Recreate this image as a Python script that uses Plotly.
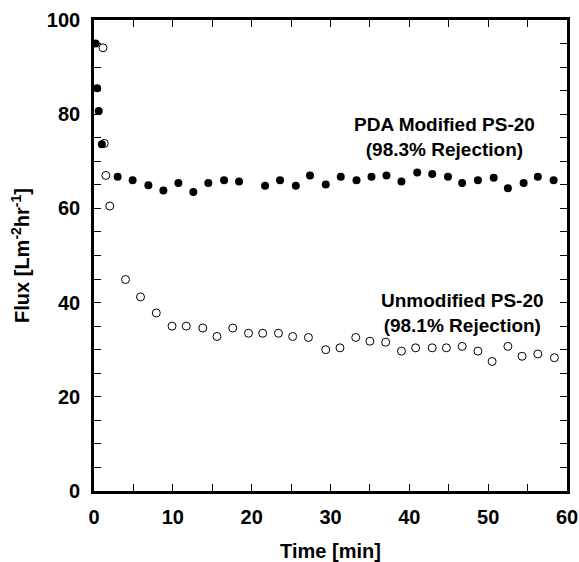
import plotly.graph_objects as go

# PDA Modified PS-20 (filled)
pda_time = [0.2, 0.4, 0.6, 1.0, 3.0, 4.9, 6.9, 8.8, 10.7, 12.6, 14.5, 16.5, 18.4,
            21.7, 23.6, 25.6, 27.4, 29.4, 31.3, 33.3, 35.2, 37.1, 39.0, 41.0, 42.9,
            44.9, 46.7, 48.7, 50.7, 52.5, 54.5, 56.3, 58.3]
pda_flux = [95.0, 85.5, 80.7, 73.6, 66.7, 66.0, 64.9, 63.8, 65.4, 63.5, 65.4, 66.0, 65.7,
            64.8, 66.0, 64.8, 67.0, 65.1, 66.7, 66.0, 66.7, 67.0, 65.7, 67.6, 67.3,
            66.7, 65.4, 66.0, 66.5, 64.3, 65.4, 66.7, 66.0]

# Unmodified PS-20 (open)
unmod_time = [1.14, 1.3, 1.5, 2.0, 4.0, 5.9, 7.9, 9.9, 11.7, 13.8, 15.6, 17.6, 19.6,
              21.4, 23.4, 25.2, 27.2, 29.4, 31.2, 33.2, 35.0, 37.0, 39.0, 40.8, 42.9,
              44.7, 46.7, 48.7, 50.5, 52.5, 54.3, 56.3, 58.4]
unmod_flux = [94.1, 73.8, 67.0, 60.5, 44.9, 41.2, 37.8, 35.0, 35.0, 34.6, 32.8, 34.6, 33.5,
              33.5, 33.5, 32.8, 32.6, 30.0, 30.4, 32.6, 31.8, 31.6, 29.7, 30.4, 30.4,
              30.4, 30.7, 29.7, 27.5, 30.7, 28.6, 29.1, 28.3]

x_ticks = [0, 10, 20, 30, 40, 50, 60]
y_ticks = [0, 20, 40, 60, 80, 100]

FONT = "Arial, Liberation Sans, sans-serif"

fig = go.Figure()
fig.add_trace(go.Scatter(x=pda_time, y=pda_flux, mode="markers",
                         marker=dict(symbol="circle", size=8, color="black"),
                         showlegend=False, cliponaxis=False))
fig.add_trace(go.Scatter(x=unmod_time, y=unmod_flux, mode="markers",
                         marker=dict(symbol="circle-open", size=8, color="black",
                                     line=dict(width=1, color="black")),
                         showlegend=False, cliponaxis=False))

fig.add_annotation(x=44.4, y=75.2, xref="x", yref="y", showarrow=False,
                   text="<b>PDA Modified PS-20<br>(98.3% Rejection)</b>",
                   font=dict(family=FONT, size=19, color="black"), align="center")
fig.add_annotation(x=46.7, y=37.8, xref="x", yref="y", showarrow=False,
                   text="<b>Unmodified PS-20<br>(98.1% Rejection)</b>",
                   font=dict(family=FONT, size=19, color="black"), align="center")

axis_common = dict(showgrid=False, zeroline=False, showline=True, linecolor="black",
                   linewidth=2.7, mirror="ticks", ticks="inside", ticklen=7,
                   tickwidth=1, tickcolor="black", automargin=False,
                   tickfont=dict(family=FONT, size=20, color="black"))

fig.update_xaxes(range=[0, 60], tickvals=x_ticks, ticktext=[f"<b>{v}</b>" for v in x_ticks],
                 minor=dict(dtick=5, ticks="inside", ticklen=7, tickwidth=1, tickcolor="black"),
                 ticklabelstandoff=6,
                 title=dict(text="<b>Time [min]</b>", font=dict(family=FONT, size=20, color="black"),
                            standoff=19),
                 **axis_common)
fig.update_yaxes(range=[0, 100], tickvals=y_ticks, ticktext=[f"<b>{v}</b>" for v in y_ticks],
                 minor=dict(dtick=5, ticks="inside", ticklen=7, tickwidth=1, tickcolor="black"),
                 ticklabelstandoff=7,
                 title=dict(text="<b>Flux [Lm<sup>-2</sup>hr<sup>-1</sup>]</b>",
                            font=dict(family=FONT, size=20, color="black"), standoff=12),
                 **axis_common)

fig.update_layout(width=579, height=562, margin=dict(l=94, r=12, t=20, b=71),
                  plot_bgcolor="white", paper_bgcolor="white")

fig.write_html("out.html", config={"displayModeBar": False},
               post_script="document.body.style.margin='0';document.body.style.overflow='hidden';")
